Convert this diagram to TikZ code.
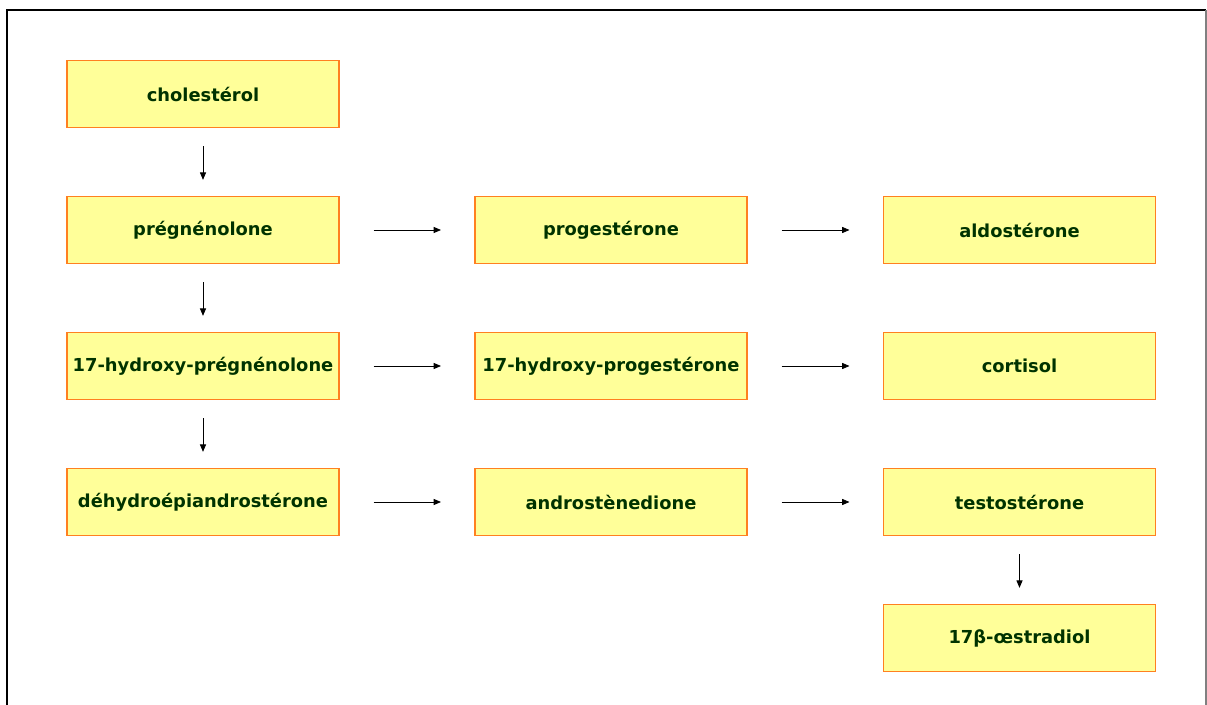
\documentclass[tikz,border=0pt]{standalone}
\usepackage{fontspec}
\setmainfont{DejaVu Sans}
\usetikzlibrary{arrows.meta}
\definecolor{boxfill}{RGB}{255,255,153}
\definecolor{boxline}{RGB}{255,128,32}
\definecolor{boxtext}{RGB}{0,51,0}
\tikzset{every picture/.style={line width=0.75pt}}
\tikzset{
  stepbox/.style={draw=boxline, fill=boxfill, line width=1pt, minimum width=204pt, minimum height=50.25pt, inner sep=0pt, text=boxtext, font=\fontsize{13.4}{16}\selectfont\bfseries},
  vflow/.style={-{Triangle[length=5.5pt,width=4.5pt]}, line width=0.6pt, shorten <=13.5pt, shorten >=12pt},
  hflow/.style={-{Triangle[length=5.5pt,width=4.5pt]}, line width=0.6pt, shorten <=25.5pt, shorten >=25pt}
}

\begin{document}
\begin{tikzpicture}[x=0.75pt,y=0.75pt,yscale=-1,xscale=1]
\useasboundingbox (0,0) rectangle (1207,705);

%Frame
\draw [line width=1.5pt] (7,705) -- (7,10) -- (1206,10) ;
\draw [color=gray, line width=1pt] (1206,10) -- (1206,705) ;

% Left column
\node [stepbox] (chol) at (203,94) {cholestérol};
\node [stepbox] (preg) at (203,230) {prégnénolone};
\node [stepbox] (ohpreg) at (203,366) {17-hydroxy-prégnénolone};
\node [stepbox] (dhea) at (203,502) {déhydroépiandrostérone};

% Middle column
\node [stepbox] (prog) at (611,230) {progestérone};
\node [stepbox] (ohprog) at (611,366) {17-hydroxy-progestérone};
\node [stepbox] (andro) at (611,502) {androstènedione};

% Right column
\node [stepbox] (aldo) at (1019.5,230) {aldostérone};
\node [stepbox] (cort) at (1019.5,366) {cortisol};
\node [stepbox] (testo) at (1019.5,502) {testostérone};
\node [stepbox] (estra) at (1019.5,638) {17β-œstradiol};

% Vertical arrows
\draw [vflow] (chol) -- (preg) ;
\draw [vflow] (preg) -- (ohpreg) ;
\draw [vflow] (ohpreg) -- (dhea) ;
\draw [vflow] (testo) -- (estra) ;

% Horizontal arrows
\draw [hflow] (preg) -- (prog) ;
\draw [hflow] (prog) -- (aldo) ;
\draw [hflow] (ohpreg) -- (ohprog) ;
\draw [hflow] (ohprog) -- (cort) ;
\draw [hflow] (dhea) -- (andro) ;
\draw [hflow] (andro) -- (testo) ;

\end{tikzpicture}
\end{document}
